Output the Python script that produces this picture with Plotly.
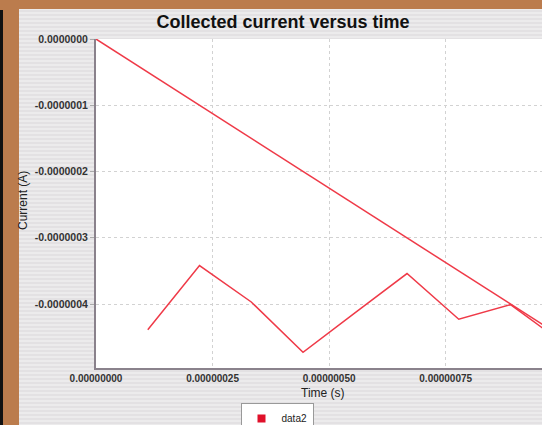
import plotly.graph_objects as go

# data
time_ref = [0.0, 1.0e-6]
current_ref = [0.0, -4.5e-7]

time_data2 = [1.11e-7, 2.22e-7, 3.33e-7, 4.44e-7, 5.56e-7, 6.67e-7, 7.78e-7, 8.89e-7, 1.0e-6]
current_data2 = [-4.39e-7, -3.42e-7, -3.97e-7, -4.73e-7, -4.13e-7, -3.54e-7, -4.23e-7, -4.01e-7, -4.58e-7]

x_tickvals = [0.0, 2.5e-7, 5.0e-7, 7.5e-7]
x_ticktext = ["0.00000000", "0.00000025", "0.00000050", "0.00000075"]
y_tickvals = [0.0, -1e-7, -2e-7, -3e-7, -4e-7]
y_ticktext = ["0.0000000", "-0.0000001", "-0.0000002", "-0.0000003", "-0.0000004"]

W, H = 542, 425
L, R, T, B = 96, 0, 39, 57
PW, PH = W - L - R, H - T - B


def px_x(p):
    return (p - L) / PW


def px_y(p):
    return (H - B - p) / PH


LINE = "#ef3a48"
BROWN = "#bb7c4d"

fig = go.Figure()

fig.add_trace(go.Scatter(
    x=time_ref, y=current_ref, mode="lines",
    line=dict(color=LINE, width=1.5), showlegend=False, hoverinfo="skip",
))
fig.add_trace(go.Scatter(
    x=time_data2, y=current_data2, mode="lines", name="data2",
    line=dict(color=LINE, width=1.5), showlegend=False,
))
# legend entry (square swatch like the original)
fig.add_trace(go.Scatter(
    x=[None], y=[None], mode="markers", name="data2",
    marker=dict(symbol="square", size=8, color="#e0102a"),
))

# background: brown frame, black strip, pinstriped grey panel, white plot area
shapes = [
    dict(type="rect", xref="paper", yref="paper", x0=px_x(19), x1=px_x(W + 5),
         y0=px_y(H + 5), y1=px_y(9), fillcolor="#ecebec", line_width=0, layer="below"),
    dict(type="rect", xref="paper", yref="paper", x0=px_x(-2), x1=px_x(3),
         y0=px_y(H + 5), y1=px_y(10), fillcolor="#111111", line_width=0, layer="below"),
]
yy = 11
while yy < H:
    shapes.append(dict(type="line", xref="paper", yref="paper", x0=px_x(19), x1=px_x(W + 5),
                       y0=px_y(yy), y1=px_y(yy), line=dict(color="#e0dee0", width=1.5),
                       layer="below"))
    yy += 4
shapes.append(dict(type="rect", xref="paper", yref="paper", x0=0, x1=1, y0=0, y1=1,
                   fillcolor="white", line_width=0, layer="below"))

fig.update_layout(
    width=W, height=H,
    margin=dict(l=L, r=R, t=T, b=B, autoexpand=False),
    paper_bgcolor=BROWN, plot_bgcolor="white",
    font=dict(family="Liberation Sans, Arial, sans-serif", color="#222222"),
    title=dict(text="<b>Collected current versus time</b>", x=283 / W, xref="container",
               xanchor="center", y=1 - 22 / H, yref="container", yanchor="middle",
               font=dict(size=18, color="#111111")),
    shapes=shapes,
    showlegend=True,
    legend=dict(x=277 / W, xref="container", xanchor="center", y=1 - 403 / H,
                yref="container", yanchor="top",
                bgcolor="white", bordercolor="#999999", borderwidth=1,
                font=dict(size=10, color="#222222"), itemwidth=30),
    annotations=[
        dict(text="Time (s)", xref="paper", yref="paper", x=px_x(323), y=px_y(393),
             xanchor="center", yanchor="middle",
             showarrow=False, font=dict(size=12, color="#222222")),
        dict(text="Current (A)", xref="paper", yref="paper", x=px_x(23), y=px_y(201),
             xanchor="center", yanchor="middle",
             textangle=-90, showarrow=False, font=dict(size=12, color="#222222")),
    ],
)

fig.update_xaxes(
    range=[0, 0.9565e-6], tickvals=x_tickvals, ticktext=x_ticktext,
    showline=True, linecolor="#8a828c", linewidth=2, ticks="",
    showgrid=True, gridcolor="#d2d2d2", griddash="dot", gridwidth=1,
    zeroline=False, tickfont=dict(size=10, color="#333333", weight="bold"),
)
fig.update_yaxes(
    range=[-4.966e-7, 0], tickvals=y_tickvals, ticktext=y_ticktext,
    showline=True, linecolor="#8a828c", linewidth=2, ticks="outside", ticklen=4,
    tickcolor="#aaaaaa", showgrid=True, gridcolor="#d2d2d2", griddash="dot", gridwidth=1,
    zeroline=False, tickfont=dict(size=10.5, color="#333333", weight="bold"),
)

# the page's default body margin would shift the whole figure by 8px
fig.write_html("out.html", config={"displayModeBar": False},
               post_script="document.body.style.margin='0';"
               "document.body.style.overflow='hidden';")
